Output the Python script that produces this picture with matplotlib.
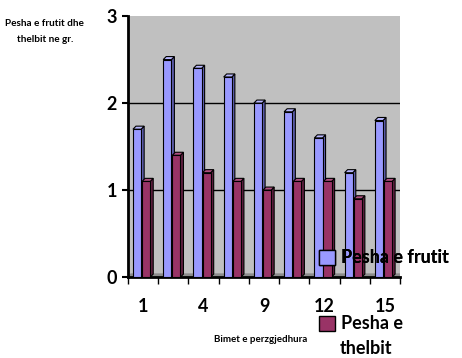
import numpy as np
import matplotlib.pyplot as plt
from matplotlib.patches import Polygon, Rectangle

# te dhenat
kategorite = ['1', '', '4', '', '9', '', '12', '', '15']
pesha_frutit = [1.7, 2.5, 2.4, 2.3, 2.0, 1.9, 1.6, 1.2, 1.8]
pesha_thelbit = [1.1, 1.4, 1.2, 1.1, 1.0, 1.1, 1.1, 0.9, 1.1]

plt.rcParams['font.family'] = ['Lato', 'DejaVu Sans']
plt.rcParams['font.weight'] = 'bold'

fig = plt.figure(figsize=(4.62, 3.58), dpi=100)
ax = fig.add_axes([0.277, 0.226, 0.589, 0.729])

x = np.arange(len(kategorite))
w = 0.27
dx, dy = 0.1, 0.035   # thellesia 3D

ax.set_facecolor('#C0C0C0')
ax.set_xlim(-0.5, len(x) - 0.5)
ax.set_ylim(0, 3)

# dyshemeja
ax.add_patch(Polygon([(-0.5, 0), (len(x) - 0.5, 0), (len(x) - 0.5 + dx, dy), (-0.5 + dx, dy)],
                     closed=True, color='#8C8C8C', zorder=1))
for g in [1, 2]:
    ax.axhline(g, color='black', lw=1, zorder=1)


def bar3d(xc, h, front, side, top):
    x0, x1 = xc - w / 2, xc + w / 2
    ax.add_patch(Rectangle((x0, 0), w, h, facecolor=front, edgecolor='black', lw=0.8, zorder=3))
    ax.add_patch(Polygon([(x1, 0), (x1 + dx, dy), (x1 + dx, h + dy), (x1, h)], closed=True,
                         facecolor=side, edgecolor='black', lw=0.8, zorder=2))
    ax.add_patch(Polygon([(x0, h), (x0 + dx, h + dy), (x1 + dx, h + dy), (x1, h)], closed=True,
                         facecolor=top, edgecolor='black', lw=0.8, zorder=2))


for i in range(len(x)):
    bar3d(x[i] - 0.2, pesha_frutit[i], '#9999FF', '#5F5FB0', '#B8B8FF')
    bar3d(x[i] + 0.1, pesha_thelbit[i], '#993366', '#5E1F3F', '#B04F80')

for s in ['top', 'right']:
    ax.spines[s].set_visible(False)
ax.spines['left'].set_linewidth(2)
ax.spines['bottom'].set_linewidth(2)

ax.set_yticks([0, 1, 2, 3])
ax.set_yticklabels(['0', '1', '2', '3'], fontsize=13, fontweight='bold')
ax.tick_params(axis='y', direction='out', length=4, width=1.5, pad=4)

ax.set_xticks(np.arange(-0.5, len(x)), labels=[''] * (len(x) + 1))
ax.set_xticks(x, labels=kategorite, minor=True)
ax.tick_params(axis='x', which='major', direction='out', length=5, width=1)
ax.tick_params(axis='x', which='minor', length=0, pad=15, labelsize=13)
for t in ax.get_xticklabels(minor=True):
    t.set_fontweight('bold')

fig.text(0.097, 0.948, 'Pesha e frutit dhe\nthelbit ne gr.', fontsize=7.2, fontweight='bold',
         ha='center', va='top', linespacing=2.0)
fig.text(0.565, 0.045, 'Bimet e perzgjedhura', fontsize=7, fontweight='bold', ha='center')

h1 = Rectangle((0, 0), 1, 1, facecolor='#9999FF', edgecolor='black', lw=1)
h2 = Rectangle((0, 0), 1, 1, facecolor='#993366', edgecolor='black', lw=1)
leg1 = fig.legend([h1], ['Pesha e frutit'], loc='center left', bbox_to_anchor=(0.675, 0.28),
                  frameon=False, prop={'size': 13, 'weight': 'bold'}, handlelength=0.9,
                  handleheight=0.9, handletextpad=0.3, borderaxespad=0)
leg2 = fig.legend([h2], ['Pesha e'], loc='center left', bbox_to_anchor=(0.675, 0.095),
                  frameon=False, prop={'size': 13, 'weight': 'bold'}, handlelength=0.9,
                  handleheight=0.9, handletextpad=0.3, borderaxespad=0)
fig.add_artist(leg1)
fig.text(0.736, 0.012, 'thelbit', fontsize=13, fontweight='bold')

fig.savefig('out.png', dpi=100)
